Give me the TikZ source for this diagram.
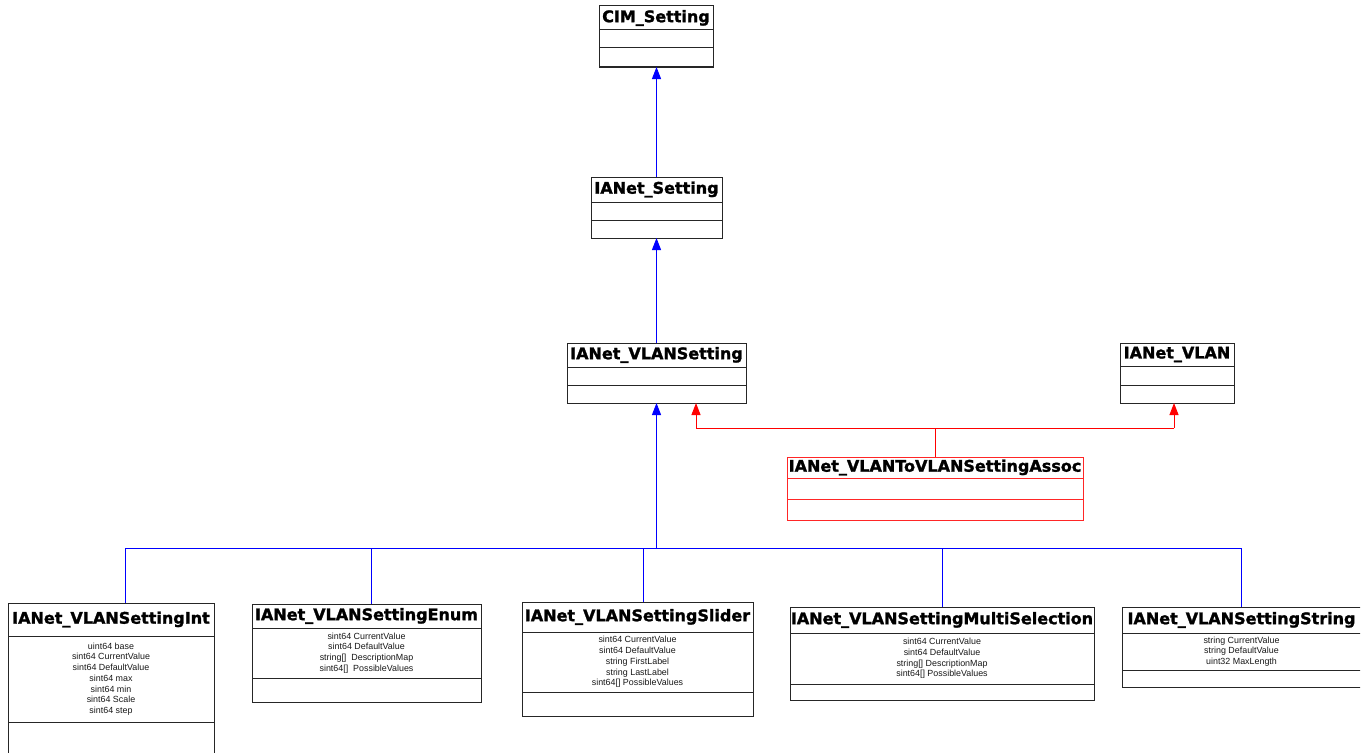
\documentclass[tikz,border=0pt]{standalone}
\usepackage{fontspec}
\setmainfont{Liberation Sans}
\newfontfamily\titlefont{DejaVu Sans}[BoldFeatures={FakeBold=1.5}]
\usetikzlibrary{arrows.meta}

% one UML class: name, left, top, right, bottom, first divider, second divider, title, attributes
\newcommand\umlclass[9]{%
  \node[classbox, anchor=north west, minimum width={#4-#2}, minimum height={#5-#3}] (#1) at (#2,#3) {};
  \node[classtitle] (#1-title) at ({(#2+#4)/2},{(#3+#6)/2}) {#8};
  \draw[classline] (#2,#6) -- (#4,#6);
  \draw[classline] (#2,#7) -- (#4,#7);
  \node[classattr] (#1-attr) at ({(#2+#4)/2},{(#6+#7)/2}) {#9};
}

\tikzset{
  classbox/.style={draw=black!85, line width=1pt, fill=white, inner sep=0pt, outer sep=0pt},
  classline/.style={draw=black!85, line width=1pt},
  classtitle/.style={font=\titlefont\bfseries\fontsize{16}{18}\selectfont, inner sep=0pt, text=black},
  classattr/.style={font=\fontsize{8.9}{10.7}\selectfont, align=center, inner sep=0pt, text=black!90},
  gen/.style={draw=blue, line width=1pt},
  genarrow/.style={gen, -{Triangle[width=9pt,length=12pt]}, fill=blue},
  assocline/.style={draw=red, line width=1pt},
  assocarrow/.style={assocline, -{Triangle[width=9pt,length=12pt]}, fill=red},
}

\begin{document}
\begin{tikzpicture}[x=1pt,y=-1pt]
\useasboundingbox (0,0) rectangle (1367,752);
\clip (0,0) rectangle (1360,752);

% inheritance chain
\umlclass{cim}{599}{6}{713}{67}{30}{48}{CIM\_Setting}{}
\umlclass{ianset}{591}{177}{722}{238}{202}{220}{IANet\_Setting}{}
\umlclass{vlanset}{567}{343}{746}{403}{367}{385}{IANet\_VLANSetting}{}
\umlclass{vlan}{1120}{343}{1234}{403}{366}{385}{IANet\_VLAN}{}

% association class
\begin{scope}[classbox/.append style={draw=red!85}, classline/.append style={draw=red!85}]
\umlclass{assoc}{787}{457}{1083}{520}{478}{499}{IANet\_VLANToVLANSettingAssoc}{}
\end{scope}

% concrete setting classes
\umlclass{sint}{8}{603}{214}{770}{636}{722}{IANet\_VLANSettingInt}{uint64 base\\sint64 CurrentValue\\sint64 DefaultValue\\sint64 max\\sint64 min\\sint64 Scale\\sint64 step}
\umlclass{senum}{252}{604}{481}{702}{628}{678}{IANet\_VLANSettingEnum}{sint64 CurrentValue\\sint64 DefaultValue\\string[]\ \ DescriptionMap\\sint64[]\ \ PossibleValues}
\umlclass{sslider}{522}{602}{753}{716}{632}{692}{IANet\_VLANSettingSlider}{sint64 CurrentValue\\sint64 DefaultValue\\string FirstLabel\\string LastLabel\\sint64[] PossibleValues}
\umlclass{smulti}{790}{607}{1094}{700}{633}{684}{IANet\_VLANSettingMultiSelection}{sint64 CurrentValue\\sint64 DefaultValue\\string[] DescriptionMap\\sint64[] PossibleValues}
\umlclass{sstring}{1122}{607}{1361}{687}{633}{670}{IANet\_VLANSettingString}{string CurrentValue\\string DefaultValue\\uint32 MaxLength}

% generalisation connectors
\draw[genarrow] (ianset.north) -- (ianset.north |- cim.south);
\draw[genarrow] (vlanset.north) -- (vlanset.north |- ianset.south);
\coordinate (bus) at (656.5,548);
\coordinate (j1) at (125,548);
\coordinate (j2) at (371,548);
\coordinate (j3) at (643,548);
\coordinate (j4) at (942,548);
\coordinate (j5) at (1241,548);
\draw[genarrow] (bus) -- (vlanset.south);
\draw[gen] (j1) -- (j5);
\draw[gen] (j1) -- (j1 |- sint.north);
\draw[gen] (j2) -- (j2 |- senum.north);
\draw[gen] (j3) -- (j3 |- sslider.north);
\draw[gen] (j4) -- (j4 |- smulti.north);
\draw[gen] (j5) -- (j5 |- sstring.north);

% association connectors
\coordinate (rj) at (935,428);
\coordinate (rl) at (696,428);
\coordinate (rr) at (1174,428);
\draw[assocline] (assoc.north) -- (rj);
\draw[assocline] (rl) -- (rr);
\draw[assocarrow] (rl) -- (rl |- vlanset.south);
\draw[assocarrow] (rr) -- (rr |- vlan.south);
\end{tikzpicture}
\end{document}
